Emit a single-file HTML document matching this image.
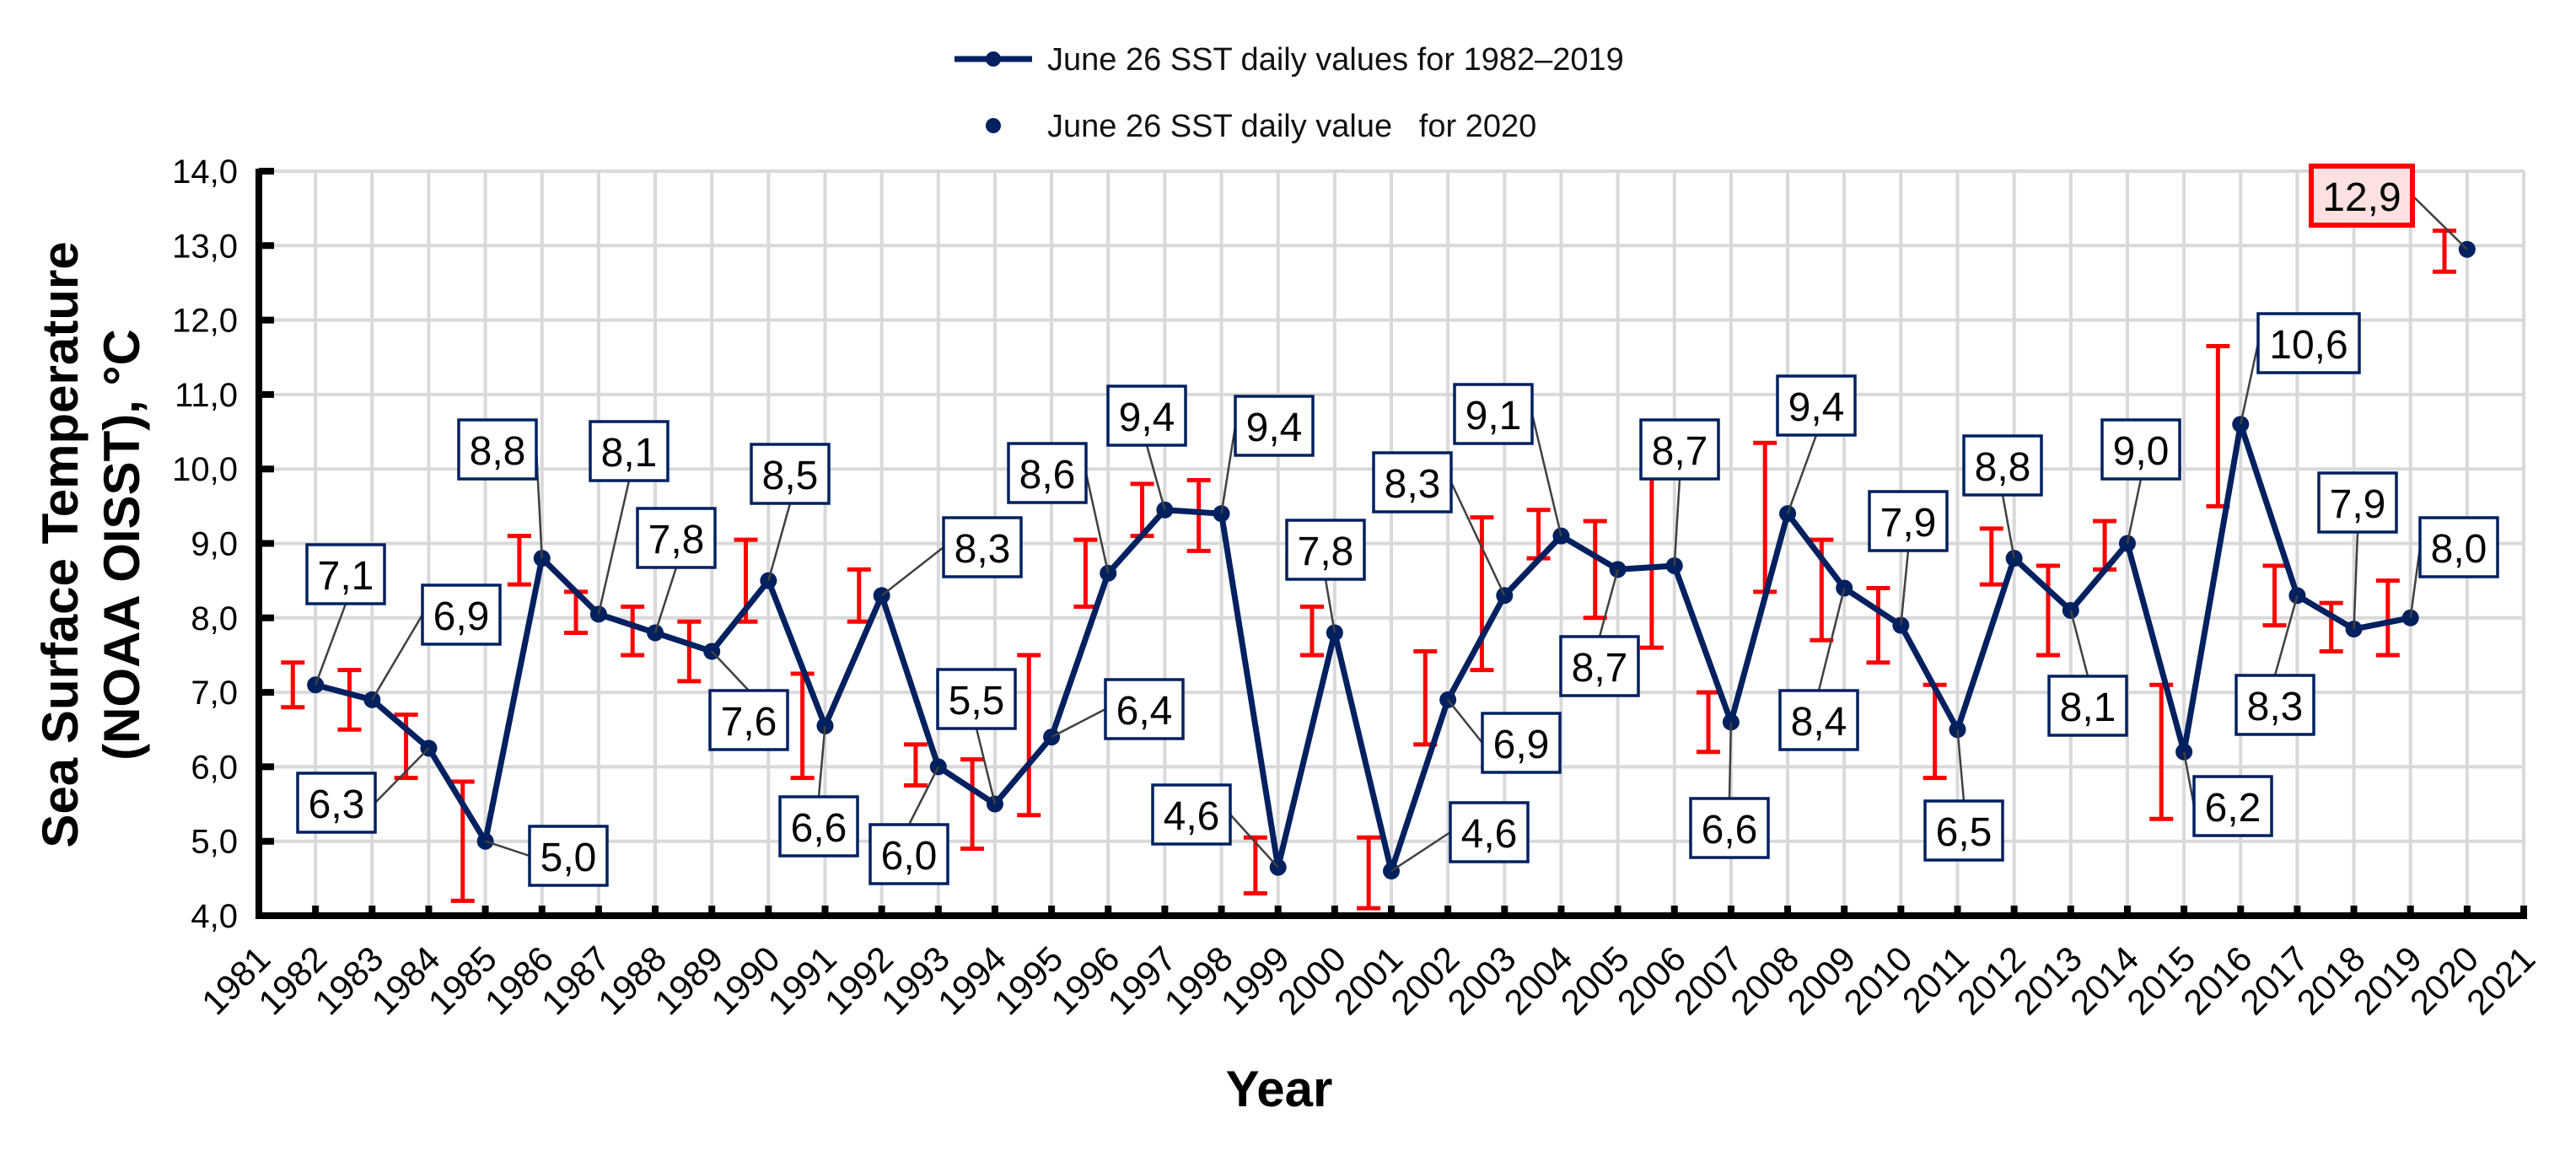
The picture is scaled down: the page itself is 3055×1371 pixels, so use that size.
<!DOCTYPE html>
<html><head><meta charset="utf-8"><style>
html,body{margin:0;padding:0;background:#fff}
svg{display:block}
text{font-family:"Liberation Sans",Arial,sans-serif}
</style></head><body>
<svg id="chart" width="3055" height="1371" viewBox="0 0 3055 1371" xmlns="http://www.w3.org/2000/svg">
<g id="grid"></g>
<g id="errs"></g>
<g id="series"></g>
<g id="labels"></g>
<g id="axes"></g>
<g>
  <line x1="1132" y1="70" x2="1224" y2="70" stroke="#002060" stroke-width="7"/>
  <circle cx="1178" cy="70" r="9" fill="#002060"/>
  <text x="1242" y="83" font-size="38" fill="#111">June 26 SST daily values for 1982–2019</text>
  <circle cx="1178" cy="149" r="9" fill="#002060"/>
  <text x="1242" y="162" font-size="38" fill="#111" xml:space="preserve">June 26 SST daily value   for 2020</text>
</g>
<text transform="translate(92,646) rotate(-90)" text-anchor="middle" font-size="60" font-weight="bold">Sea Surface Temperature</text>
<text transform="translate(165,646) rotate(-90)" text-anchor="middle" font-size="60" font-weight="bold">(NOAA OISST), °C</text>
<text x="1517" y="1312" text-anchor="middle" font-size="60" font-weight="bold">Year</text>
</svg>
<script>
const years = [1982,1983,1984,1985,1986,1987,1988,1989,1990,1991,1992,1993,1994,1995,1996,1997,1998,1999,2000,2001,2002,2003,2004,2005,2006,2007,2008,2009,2010,2011,2012,2013,2014,2015,2016,2017,2018,2019];
const values = [7.1,6.9,6.25,5.0,8.8,8.05,7.8,7.55,8.5,6.55,8.3,6.0,5.5,6.4,8.6,9.45,9.4,4.65,7.8,4.6,6.9,8.3,9.1,8.65,8.7,6.6,9.4,8.4,7.9,6.5,8.8,8.1,9.0,6.2,10.6,8.3,7.85,8.0];
const labelTexts = ["7,1","6,9","6,3","5,0","8,8","8,1","7,8","7,6","8,5","6,6","8,3","6,0","5,5","6,4","8,6","9,4","9,4","4,6","7,8","4,6","6,9","8,3","9,1","8,7","8,7","6,6","9,4","8,4","7,9","6,5","8,8","8,1","9,0","6,2","10,6","8,3","7,9","8,0"];
const errLow = [6.8,6.5,5.85,4.2,8.45,7.8,7.5,7.15,7.95,5.85,7.95,5.75,4.9,5.35,8.15,9.1,8.9,4.3,7.5,4.1,6.3,7.3,8.8,8.0,7.6,6.2,8.35,7.7,7.4,5.85,8.45,7.5,8.65,5.3,9.5,7.9,7.55,7.5];
const errHigh = [7.4,7.3,6.7,5.8,9.1,8.35,8.15,7.95,9.05,7.25,8.65,6.3,6.1,7.5,9.05,9.8,9.85,5.05,8.15,5.05,7.55,9.35,9.45,9.3,9.9,7.0,10.35,9.05,8.4,7.1,9.2,8.7,9.3,7.1,11.65,8.7,8.2,8.5];
const year2020 = [2020];
const value2020 = [12.95];
const label2020 = ["12,9"];
const err2020Low = [12.65];
const err2020High = [13.2];
const yTicks = [4,5,6,7,8,9,10,11,12,13,14];
const yTickLabels = ["4,0","5,0","6,0","7,0","8,0","9,0","10,0","11,0","12,0","13,0","14,0"];
const xTicks = [1981,1982,1983,1984,1985,1986,1987,1988,1989,1990,1991,1992,1993,1994,1995,1996,1997,1998,1999,2000,2001,2002,2003,2004,2005,2006,2007,2008,2009,2010,2011,2012,2013,2014,2015,2016,2017,2018,2019,2020,2021];
// label box centers (layout only), index-aligned with years
const labelPos = [[410,681],[547,729],[399,952],[674,1015],[590,533],[746,535],[802,638],[888,854],[937,562],[971,980],[1165,649],[1078,1013],[1158,829],[1357,841],[1242,561],[1360,493],[1511,505],[1413,966],[1572,652],[1766,987],[1804,881],[1675,572],[1771,491],[1897,790],[1992,533],[2051,982],[2154,481],[2157,854],[2263,618],[2329,985],[2375,552],[2476,837],[2539,533],[2648,956],[2738,407],[2698,836],[2796,596],[2916,649]];
const labelPos2020 = [2801,232];

const X0=307, X1=2993, Y0=1086, Y1=203;
const NS="http://www.w3.org/2000/svg";
function sx(yr){return X0+(yr-1981)*(X1-X0)/40;}
function sy(v){return Y0-(v-4)*(Y0-Y1)/10;}
function mk(tag,attrs,parent){const e=document.createElementNS(NS,tag);for(const k in attrs)e.setAttribute(k,attrs[k]);parent.appendChild(e);return e;}
const grid=document.getElementById('grid'),errs=document.getElementById('errs'),series=document.getElementById('series'),labels=document.getElementById('labels'),axes=document.getElementById('axes');

yTicks.forEach((t,i)=>{
  const l=mk('line',{x1:X0,x2:X1,y1:sy(t),y2:sy(t),stroke:'#d9d9d9','stroke-width':4},grid);
  
  
  const tk=mk('line',{x1:X0,x2:X0+18,y1:sy(t),y2:sy(t),stroke:'#000','stroke-width':8},axes);
  
  
  const tx=mk('text',{x:282,y:sy(t)+14,'text-anchor':'end','font-size':40},axes);
  tx.textContent=yTickLabels[i];
  
  
});
xTicks.forEach(t=>{
  if(t>1981){
    const l=mk('line',{x1:sx(t),x2:sx(t),y1:Y1,y2:Y0,stroke:'#d9d9d9','stroke-width':4},grid);
    
    
  }
  const tk=mk('line',{x1:sx(t),x2:sx(t),y1:Y0-12,y2:Y0,stroke:'#000','stroke-width':8},axes);
  
  
  const tx=mk('text',{'text-anchor':'end','font-size':42,transform:`translate(${sx(t)+16},${Y0+54}) rotate(-45)`},axes);
  tx.textContent=String(t);
  
  
});
const ya=mk('line',{x1:X0,x2:X0,y1:Y1-3,y2:Y0+4,stroke:'#000','stroke-width':8},axes);


const xa=mk('line',{x1:X0-4,x2:X1+4,y1:Y0,y2:Y0,stroke:'#000','stroke-width':8},axes);



function errorBar(yr,lo,hi){
  const x=sx(yr)-0.4*(X1-X0)/40;
  const g=mk('g',{stroke:'#ff0000','stroke-width':5},errs);
  
  
  mk('line',{x1:x,x2:x,y1:sy(lo),y2:sy(hi)},g);
  mk('line',{x1:x-14,x2:x+14,y1:sy(lo),y2:sy(lo)},g);
  mk('line',{x1:x-14,x2:x+14,y1:sy(hi),y2:sy(hi)},g);
}
years.forEach((y,i)=>errorBar(y,errLow[i],errHigh[i]));
year2020.forEach((y,i)=>errorBar(y,err2020Low[i],err2020High[i]));

const pl=mk('polyline',{points:years.map((y,i)=>sx(y)+','+sy(values[i])).join(' '),fill:'none',stroke:'#002060','stroke-width':7,'stroke-linejoin':'round'},series);


function point(yr,v,name){
  const c=mk('circle',{cx:sx(yr),cy:sy(v),r:10,fill:'#002060'},series);
  
  
}
years.forEach((y,i)=>point(y,values[i],'point-'+y));
year2020.forEach((y,i)=>point(y,value2020[i],'point-2020'));

function label(yr,v,txt,pos,red){
  const cx=pos[0], cy=pos[1];
  const w=txt.length>3?120:92, h=70;
  const px=sx(yr), py=sy(v);
  let ex=cx, ey=cy;
  if(Math.abs(px-cx)>w/2){ex=cx+(px>cx?w/2:-w/2);}
  else {ey=cy+(py>cy?h/2:-h/2);}
  const ld=mk('line',{x1:ex,y1:ey,x2:px,y2:py,stroke:'#404040','stroke-width':2.5},labels);
  
  
  const r=mk('rect',{x:cx-w/2,y:cy-h/2,width:w,height:h,fill:red?'#fde0e0':'#fff',stroke:red?'#ff0000':'#002060','stroke-width':red?6:3.5},labels);
  
  
  const t=mk('text',{x:cx,y:cy+18,'text-anchor':'middle','font-size':48},labels);
  t.textContent=txt;
  
  
}
years.forEach((y,i)=>label(y,values[i],labelTexts[i],labelPos[i],false));
year2020.forEach((y,i)=>label(y,value2020[i],label2020[i],labelPos2020,true));
</script>
</body></html>
